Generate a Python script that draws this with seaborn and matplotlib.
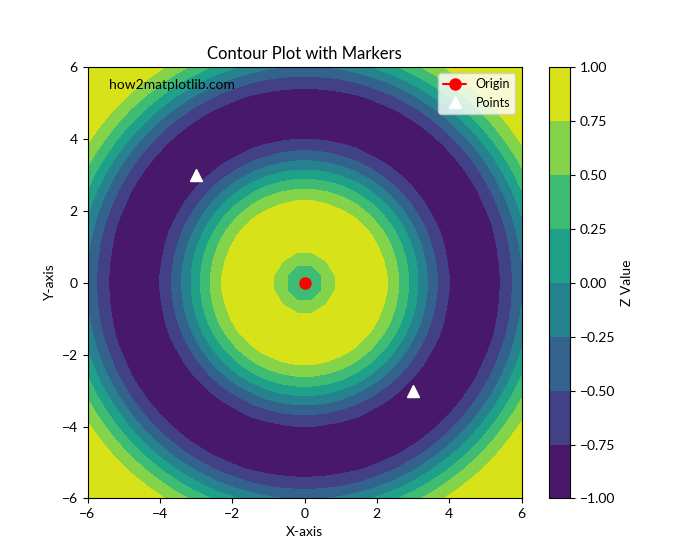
import numpy as np
import matplotlib
matplotlib.use('Agg')
import matplotlib.pyplot as plt
import seaborn as sns

# grid extent and resolution of the surface
x_range = [-6, 6]
n_grid = 30

# contour levels shown on the colorbar
levels = [-1.0, -0.75, -0.5, -0.25, 0.0, 0.25, 0.5, 0.75, 1.0]

# marker positions
origin_x = [0]
origin_y = [0]
points_x = [-3, 3]
points_y = [3, -3]

ticks = [-6, -4, -2, 0, 2, 4, 6]

sns.set_style('white')
plt.rcParams['font.family'] = ['Lato', 'DejaVu Sans']
plt.rcParams['font.size'] = 10
plt.rcParams['text.color'] = 'black'
plt.rcParams['axes.labelcolor'] = 'black'
plt.rcParams['xtick.color'] = 'black'
plt.rcParams['ytick.color'] = 'black'

x = np.linspace(x_range[0], x_range[1], n_grid)
y = np.linspace(x_range[0], x_range[1], n_grid)
X, Y = np.meshgrid(x, y)
Z = np.sin(np.sqrt(X**2 + Y**2))

fig = plt.figure(figsize=(7, 5.6), dpi=100)
cmap = sns.color_palette('viridis', as_cmap=True)
cs = plt.contourf(X, Y, Z, levels=levels, cmap=cmap)
cbar = plt.colorbar(cs)
cbar.set_label('Z Value')
cbar.outline.set_edgecolor('black')

plt.plot(origin_x, origin_y, 'ro-', markersize=8, label='Origin')
plt.plot(points_x, points_y, 'w^', markersize=8, label='Points')

plt.title('Contour Plot with Markers')
plt.xlabel('X-axis')
plt.ylabel('Y-axis')
plt.xticks(ticks)
plt.yticks(ticks)
plt.legend(loc='upper right', fontsize=9, handlelength=1.8)
plt.text(0.05, 0.95, 'how2matplotlib.com', transform=plt.gca().transAxes)

ax = plt.gca()
for s in ax.spines.values():
    s.set_edgecolor('black')
ax.tick_params(axis='both', which='both', length=3.5, color='black', left=True, bottom=True)
cbar.ax.tick_params(length=3.5, color='black', right=True)

plt.savefig('out.png', dpi=100)
